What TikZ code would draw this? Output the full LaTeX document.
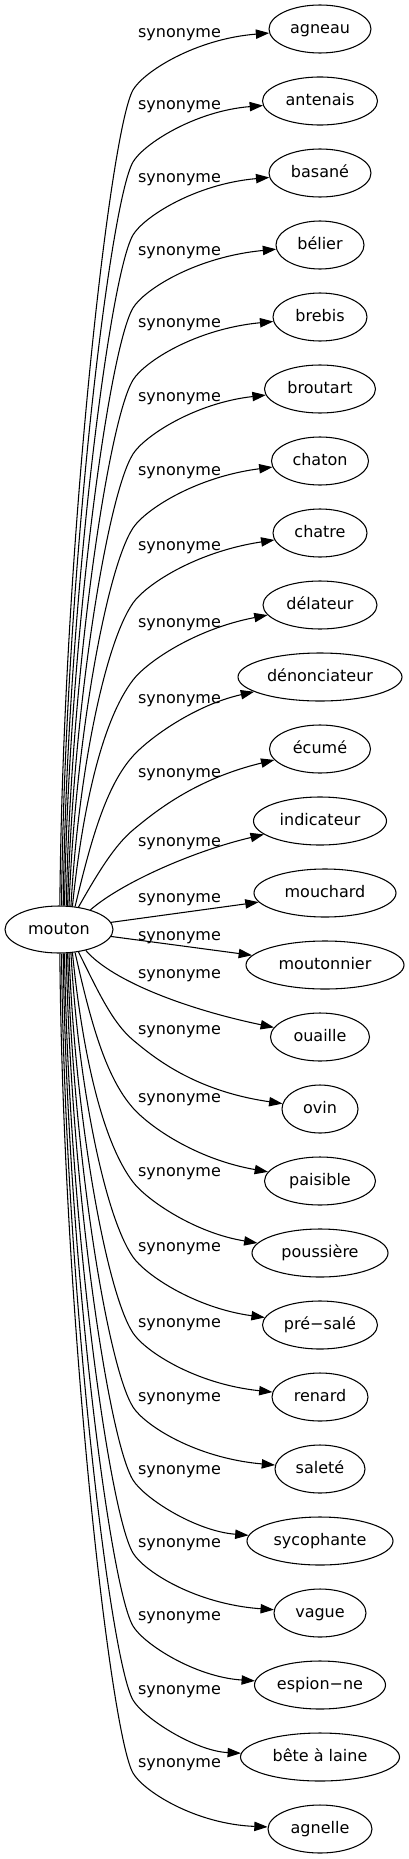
\documentclass[tikz,border=0pt]{standalone}
\usepackage{fontspec}
\setmainfont{DejaVu Sans}
\usetikzlibrary{arrows.meta,shapes.geometric}
\begin{document}
\begin{tikzpicture}[x=0.75pt,y=-0.75pt,
  every node/.style={font=\fontsize{12pt}{14pt}\selectfont, text height=9pt, text depth=2.25pt, inner sep=0pt},
  word/.style={ellipse, draw, line width=0.8pt, minimum height=36pt},
  lab/.style={},
  edge/.style={draw, line width=0.8pt, -{Triangle[length=10pt,width=7pt]}}]
\useasboundingbox (0,0) rectangle (408,1859);

% central node
\node[word, minimum width=81pt, minimum height=35.25pt] (m) at (59,929.5) {mouton};

% target nodes
\node[word, minimum width=76.5pt]  (t0)  at (320,29)   {agneau};
\node[word, minimum width=86.25pt] (t1)  at (320,101)  {antenais};
\node[word, minimum width=76.5pt]  (t2)  at (320,173)  {basané};
\node[word, minimum width=66pt]    (t3)  at (320,245)  {bélier};
\node[word, minimum width=70.5pt]  (t4)  at (320,317)  {brebis};
\node[word, minimum width=83.25pt] (t5)  at (320,389)  {broutart};
\node[word, minimum width=72.75pt] (t6)  at (320,461)  {chaton};
\node[word, minimum width=70.5pt]  (t7)  at (320,533)  {chatre};
\node[word, minimum width=85.5pt]  (t8)  at (320,605)  {délateur};
\node[word, minimum width=123pt]   (t9)  at (320,677)  {dénonciateur};
\node[word, minimum width=75.75pt] (t10) at (320,749)  {écumé};
\node[word, minimum width=99.75pt] (t11) at (320,821)  {indicateur};
\node[word, minimum width=106.5pt] (t12) at (325,893)  {mouchard};
\node[word, minimum width=118.5pt] (t13) at (325,965)  {moutonnier};
\node[word, minimum width=74.25pt] (t14) at (320,1037) {ouaille};
\node[word, minimum width=57pt]    (t15) at (320,1109) {ovin};
\node[word, minimum width=83.25pt] (t16) at (320,1181) {paisible};
\node[word, minimum width=102pt]   (t17) at (320,1253) {poussière};
\node[word, minimum width=86.25pt] (t18) at (320,1325) {pré−salé};
\node[word, minimum width=72pt]    (t19) at (320,1397) {renard};
\node[word, minimum width=67.5pt]  (t20) at (320,1469) {saleté};
\node[word, minimum width=109.5pt] (t21) at (320,1541) {sycophante};
\node[word, minimum width=69pt]    (t22) at (320,1613) {vague};
\node[word, minimum width=98.25pt] (t23) at (320,1685) {espion−ne};
\node[word, minimum width=119.25pt](t24) at (320,1757) {bête à laine};
\node[word, minimum width=78pt]    (t25) at (320,1829) {agnelle};

% edge labels
\foreach \k/\L in {0/33,1/105,2/178,3/251,4/323,5/397,6/471,7/546,8/623,9/699,10/773,11/842,12/898,13/936,14/974,15/1030,16/1098,17/1172,18/1247,19/1323,20/1397,21/1470,22/1543,23/1616,24/1690,25/1763}
  \node[lab] (l\k) at (179.5,\L) {synonyme};

% upper edges
\foreach \k/\L/\sx in {0/33/60,1/105/61.5,2/178/63,3/251/64.5,4/323/66,5/397/67.5,6/471/69,7/546/70.5,8/623/72,9/699/75,10/773/78}{
  \pgfmathsetmacro\myKy{\L+57}
  \pgfmathsetmacro\myh{906-\myKy}
  \pgfmathsetmacro\mya{min(1.2,0.5+60/\myh)}
  \pgfmathsetmacro\mysig{min(40,0.2*\myh)}
  \pgfmathsetmacro\cxa{\sx+min(20,2400/\myh)}
  \pgfmathsetmacro\cya{906-0.44*\myh}
  \pgfmathsetmacro\cxb{133-\mya*\mysig}
  \pgfmathsetmacro\cyb{\myKy+\mysig}
  \pgfmathsetmacro\cxc{133+18*\mya}
  \pgfmathsetmacro\cyc{\myKy-18}
  \pgfmathsetmacro\cyd{\L+6}
  \pgfmathsetmacro\mydx{\sx-59}
  \pgfmathtruncatemacro\myang{round(atan2(23.5*sqrt(1-(\mydx/54)^2),\mydx))}
  \draw[edge] (m.\myang) .. controls (\cxa,\cya) and (\cxb,\cyb) .. (133,\myKy)
     .. controls (\cxc,\cyc) and (195,\cyd) .. (t\k);
}

% middle edges
\draw[edge] (m.32) .. controls (120,884) and (190,852) .. (t11);
\draw[edge] (m) -- (t12);
\draw[edge] (m) -- (t13);
\draw[edge] (m.-38) .. controls (113,982) and (190,1010) .. (t14);

% lower edges
\foreach \k/\L/\sx in {15/1030/78,16/1098/75,17/1172/72,18/1247/70.5,19/1323/69,20/1397/67.5,21/1470/66,22/1543/64.5,23/1616/63,24/1690/61.5,25/1763/60}{
  \pgfmathsetmacro\myKy{\L+10}
  \pgfmathsetmacro\myh{\myKy-953}
  \pgfmathsetmacro\mya{min(1.2,0.5+60/\myh)}
  \pgfmathsetmacro\mysig{min(40,0.2*\myh)}
  \pgfmathsetmacro\cxa{\sx+min(20,2400/\myh)}
  \pgfmathsetmacro\cya{953+0.44*\myh}
  \pgfmathsetmacro\cxb{133-\mya*\mysig}
  \pgfmathsetmacro\cyb{\myKy-\mysig}
  \pgfmathsetmacro\cxc{133+18*\mya}
  \pgfmathsetmacro\cyc{\myKy+18}
  \pgfmathsetmacro\cyd{\myKy+51}
  \pgfmathsetmacro\mydx{\sx-59}
  \pgfmathtruncatemacro\myang{-round(atan2(23.5*sqrt(1-(\mydx/54)^2),\mydx))}
  \draw[edge] (m.\myang) .. controls (\cxa,\cya) and (\cxb,\cyb) .. (133,\myKy)
     .. controls (\cxc,\cyc) and (195,\cyd) .. (t\k);
}
\end{tikzpicture}
\end{document}
